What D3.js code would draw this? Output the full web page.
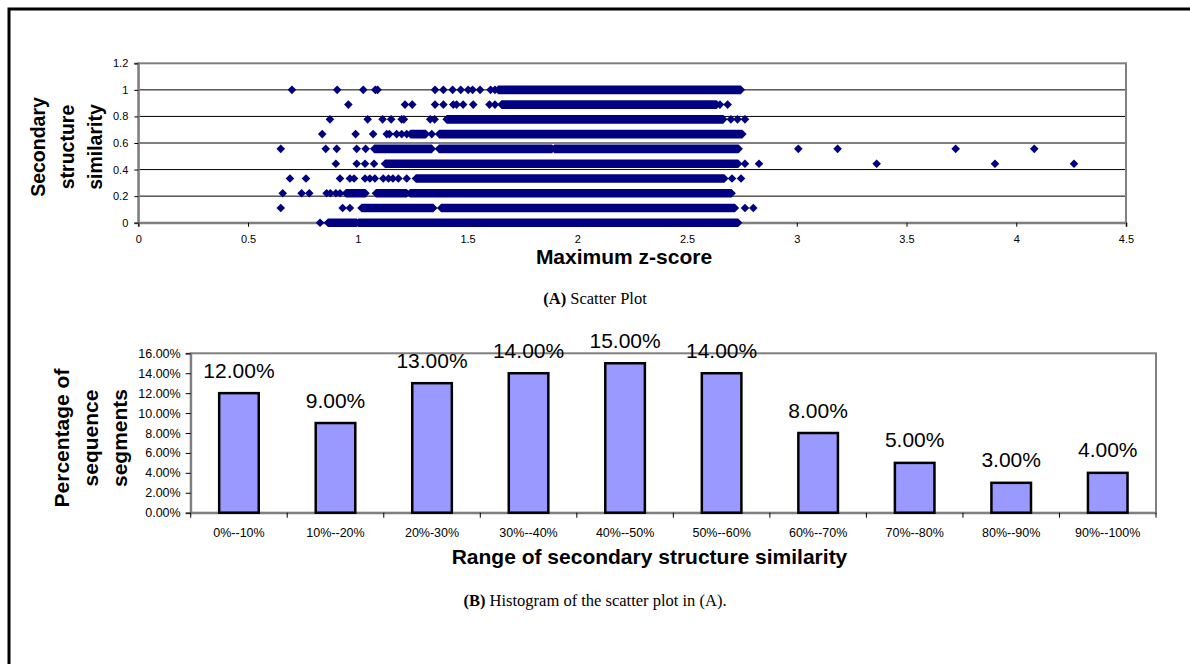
<!DOCTYPE html>
<html lang="en">
<head>
<meta charset="UTF-8">
<script src="https://d3js.org/d3.v7.min.js"></script>
<style>
    body { margin: 0; background: #fff; font-family: Arial, "Liberation Sans", sans-serif; }
    .tick text { fill: #000; font-family: Arial, "Liberation Sans", sans-serif; }
    .axis-title { font-weight: bold; fill: #000; }
    .caption { font-family: "Times New Roman", "Liberation Serif", serif; font-size: 16.5px; fill: #000; }
</style>
</head>
<body>
<svg id="chart"></svg>
<script>
// ---- scatter (A): one row per similarity level ----
const simLevels = [0, 0.111, 0.222, 0.333, 0.444, 0.556, 0.667, 0.778, 0.889, 1];

// dense stretches where diamonds overlap into a band, [from, to] in z-score
const rowRuns = [
    [[0.864, 0.995], [1.002, 2.733]],
    [[1.017, 1.344], [1.38, 2.718]],
    [[0.946, 1.035], [1.083, 1.223], [1.238, 2.703]],
    [[1.265, 2.67]],
    [[1.124, 2.733]],
    [[1.075, 1.337], [1.37, 1.885], [1.895, 2.735]],
    [[1.24, 1.31], [1.371, 2.752]],
    [[1.405, 2.665]],
    [[1.655, 2.635]],
    [[1.64, 2.745]]
];

// single diamonds that stand apart
const rowPoints = [
    [0.828],
    [0.649, 0.931, 0.964, 2.764, 2.802],
    [0.658, 0.744, 0.779, 0.858, 0.875, 0.9, 0.919],
    [0.691, 0.764, 0.919, 0.964, 0.983, 1.033, 1.055, 1.078, 1.116, 1.14, 1.16, 1.185, 1.223, 2.705, 2.746],
    [0.9, 0.995, 1.033, 1.074, 2.764, 2.828, 3.364, 3.903, 4.263],
    [0.649, 0.854, 0.904, 0.995, 1.036, 3.007, 3.186, 3.724, 4.082],
    [0.838, 0.99, 1.07, 1.132, 1.144, 1.177, 1.2, 1.223, 1.337],
    [0.873, 1.045, 1.113, 1.152, 1.2, 1.21, 1.33, 1.35, 2.7, 2.73, 2.764],
    [0.957, 1.215, 1.248, 1.352, 1.39, 1.435, 1.45, 1.48, 1.526, 1.6, 1.625, 2.65, 2.685],
    [0.7, 0.906, 1.025, 1.08, 1.09, 1.352, 1.39, 1.432, 1.469, 1.503, 1.523, 1.557, 1.605, 1.625]
];

const zTicks = [0, 0.5, 1, 1.5, 2, 2.5, 3, 3.5, 4, 4.5];
const simTicks = [0, 0.2, 0.4, 0.6, 0.8, 1, 1.2];

// ---- histogram (B) ----
const binLabels = ["0%--10%", "10%--20%", "20%-30%", "30%--40%", "40%--50%",
                   "50%--60%", "60%--70%", "70%--80%", "80%--90%", "90%--100%"];
const binShares = [0.12, 0.09, 0.13, 0.14, 0.15, 0.14, 0.08, 0.05, 0.03, 0.04];
const shareTicks = [0, 0.02, 0.04, 0.06, 0.08, 0.10, 0.12, 0.14, 0.16];

const W = 1190, H = 664;
const svg = d3.select("#chart").attr("width", W).attr("height", H);

// outer frame, runs off the right and bottom edge
svg.append("rect")
    .attr("x", 9).attr("y", 9).attr("width", 1300).attr("height", 800)
    .attr("fill", "none").attr("stroke", "#000").attr("stroke-width", 3);

// ================= scatter =================
const sc = {left: 138.3, right: 1126, top: 63.3, bottom: 222.7};
const x = d3.scaleLinear().domain([0, 4.5]).range([sc.left, sc.right]);
const y = d3.scaleLinear().domain([0, 1.2]).range([sc.bottom, sc.top]);

// grid lines
svg.append("g").selectAll("line")
    .data(simTicks.filter(d => d > 0 && d < 1.2))
    .join("line")
    .attr("x1", sc.left).attr("x2", sc.right)
    .attr("y1", d => y(d)).attr("y2", d => y(d))
    .attr("stroke", "#000").attr("stroke-width", 1);

svg.append("rect")
    .attr("x", sc.left).attr("y", sc.top)
    .attr("width", sc.right - sc.left).attr("height", sc.bottom - sc.top)
    .attr("fill", "none").attr("stroke", "#808080").attr("stroke-width", 2);

const yAxA = svg.append("g")
    .attr("transform", `translate(${sc.left},0)`)
    .call(d3.axisLeft(y).tickValues(simTicks).tickSize(4).tickPadding(6).tickFormat(d3.format("")));
const xAxA = svg.append("g")
    .attr("transform", `translate(0,${sc.bottom})`)
    .call(d3.axisBottom(x).tickValues(zTicks).tickSize(4).tickPadding(9).tickFormat(d3.format("")));
[yAxA, xAxA].forEach(g => {
    g.select(".domain").attr("stroke", "#808080").attr("stroke-width", 2);
    g.selectAll(".tick line").attr("stroke", "#000");
    g.selectAll(".tick text").style("font-size", "11px");
});

const hw = 4.3, hh = 4.3; // half width / half height of a diamond
const dots = svg.append("g").attr("fill", "#000080");

simLevels.forEach((lvl, i) => {
    const cy = y(lvl);
    dots.selectAll(null)
        .data(rowRuns[i])
        .join("path")
        .attr("d", r => {
            const a = x(r[0]), b = x(r[1]);
            return `M${a - hw},${cy}L${a},${cy - hh}L${b},${cy - hh}L${b + hw},${cy}L${b},${cy + hh}L${a},${cy + hh}Z`;
        });
    dots.selectAll(null)
        .data(rowPoints[i])
        .join("path")
        .attr("d", v => {
            const cx = x(v);
            return `M${cx - hw},${cy}L${cx},${cy - hh}L${cx + hw},${cy}L${cx},${cy + hh}Z`;
        });
});

// scatter titles
const ytA = svg.append("g").attr("class", "axis-title").style("font-size", "19.5px");
["Secondary", "structure", "similarity"].forEach((t, i) => {
    ytA.append("text")
        .attr("transform", `translate(${38 + i * 28.5},147) rotate(-90)`)
        .attr("text-anchor", "middle").attr("dy", "0.36em")
        .text(t);
});
svg.append("text").attr("class", "axis-title")
    .attr("x", 624).attr("y", 264)
    .attr("text-anchor", "middle").style("font-size", "21px")
    .text("Maximum z-score");

const capA = svg.append("text").attr("class", "caption")
    .attr("x", 595).attr("y", 304).attr("text-anchor", "middle");
capA.append("tspan").attr("font-weight", "bold").text("(A)");
capA.append("tspan").text(" Scatter Plot");

// ================= histogram =================
const hc = {left: 190.7, right: 1156, top: 353.3, bottom: 512.7};
const xb = d3.scaleBand().domain(binLabels).range([hc.left, hc.right]).padding(0);
const yb = d3.scaleLinear().domain([0, 0.16]).range([hc.bottom, hc.top]);

svg.append("rect")
    .attr("x", hc.left).attr("y", hc.top)
    .attr("width", hc.right - hc.left).attr("height", hc.bottom - hc.top)
    .attr("fill", "none").attr("stroke", "#808080").attr("stroke-width", 2);

const yAxB = svg.append("g")
    .attr("transform", `translate(${hc.left},0)`)
    .call(d3.axisLeft(yb).tickValues(shareTicks).tickSize(5).tickPadding(5).tickFormat(d3.format(".2%")));
const xAxB = svg.append("g")
    .attr("transform", `translate(0,${hc.bottom})`)
    .call(d3.axisBottom(xb).tickSize(0).tickPadding(15));
[yAxB, xAxB].forEach(g => {
    g.select(".domain").attr("stroke", "#808080").attr("stroke-width", 2);
    g.selectAll(".tick line").attr("stroke", "#000");
});
yAxB.selectAll(".tick text").style("font-size", "12.5px");
xAxB.selectAll(".tick text").style("font-size", "12.5px");

// tick marks between bins
svg.append("g").selectAll("line")
    .data(binLabels.map(d => xb(d)).concat([hc.right]))
    .join("line")
    .attr("x1", d => d).attr("x2", d => d)
    .attr("y1", hc.bottom).attr("y2", hc.bottom + 5)
    .attr("stroke", "#000");

const barW = xb.bandwidth() * 0.41;
svg.append("g").selectAll("rect")
    .data(binShares)
    .join("rect")
    .attr("x", (d, i) => xb(binLabels[i]) + xb.bandwidth() / 2 - barW / 2)
    .attr("y", d => yb(d))
    .attr("width", barW)
    .attr("height", d => hc.bottom - yb(d))
    .attr("fill", "#9999FF")
    .attr("stroke", "#000").attr("stroke-width", 2.5);

svg.append("g").selectAll("text")
    .data(binShares)
    .join("text")
    .attr("x", (d, i) => xb(binLabels[i]) + xb.bandwidth() / 2)
    .attr("y", d => yb(d) - 15.5)
    .attr("text-anchor", "middle")
    .style("font-size", "21px")
    .text(d => d3.format(".2%")(d));

const ytB = svg.append("g").attr("class", "axis-title").style("font-size", "21px");
["Percentage of", "sequence", "segments"].forEach((t, i) => {
    ytB.append("text")
        .attr("transform", `translate(${61.7 + i * 28.8},438) rotate(-90)`)
        .attr("text-anchor", "middle").attr("dy", "0.36em")
        .text(t);
});
svg.append("text").attr("class", "axis-title")
    .attr("x", 649.5).attr("y", 564)
    .attr("text-anchor", "middle").style("font-size", "21px")
    .text("Range of secondary structure similarity");

const capB = svg.append("text").attr("class", "caption")
    .attr("x", 595).attr("y", 606).attr("text-anchor", "middle");
capB.append("tspan").attr("font-weight", "bold").text("(B)");
capB.append("tspan").text(" Histogram of the scatter plot in (A).");
</script>
</body>
</html>
